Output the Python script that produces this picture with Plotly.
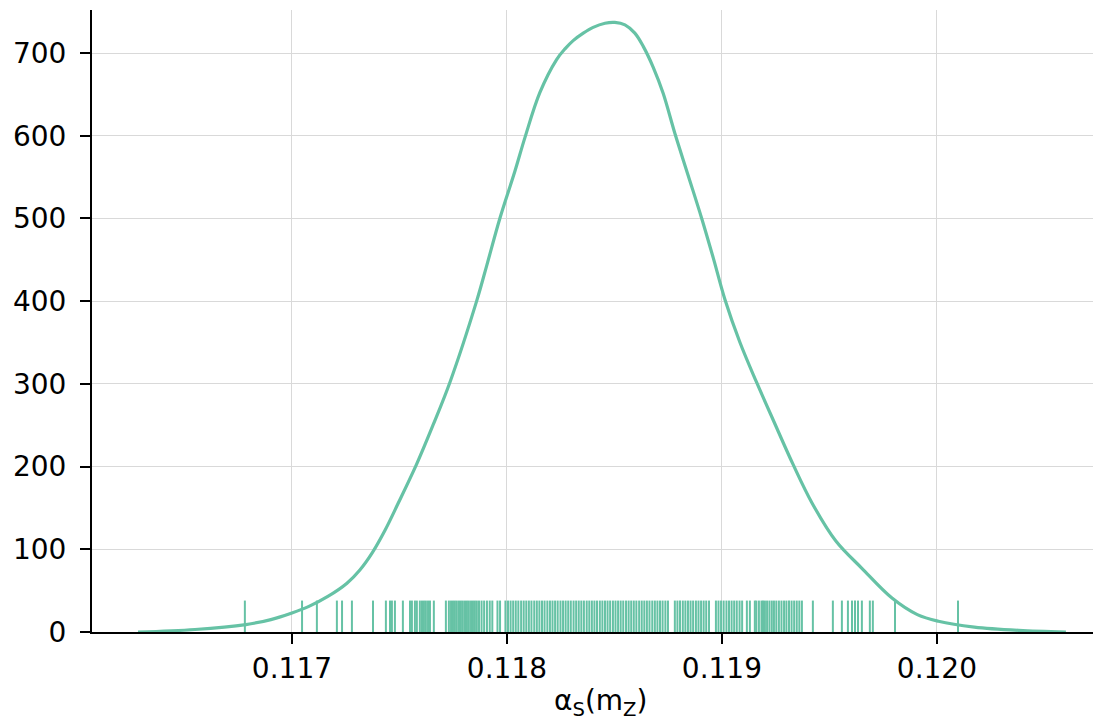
import plotly.graph_objects as go

# KDE curve
kde_x = [0.116284, 0.116549, 0.116786, 0.116902, 0.117000, 0.117079, 0.117167, 0.117256,
         0.117316, 0.117374, 0.117433, 0.117493, 0.117580, 0.117656, 0.117735, 0.117859,
         0.117906, 0.117967, 0.118037, 0.118084, 0.118153, 0.118231, 0.118270, 0.118308,
         0.118355, 0.118401, 0.118456, 0.118502, 0.118549, 0.118595, 0.118634, 0.118680,
         0.118727, 0.118781, 0.118843, 0.118906, 0.118960, 0.119014, 0.119084, 0.119161,
         0.119239, 0.119332, 0.119419, 0.119530, 0.119651, 0.119791, 0.119909, 0.120007,
         0.120174, 0.120381, 0.120600]
kde_y = [0, 3, 9, 15, 23, 31, 43, 59,
         75, 96, 123, 155, 203, 250, 302, 400,
         443, 500, 557, 598, 652, 692, 705, 715,
         724, 731, 736, 737, 734, 724, 708, 683,
         651, 603, 552, 500, 452, 402, 350, 302,
         256, 202, 156, 110, 77, 41, 21, 13,
         6, 2, 0]

# rug sample positions
rug_x = [0.116781, 0.117047, 0.117116, 0.117209, 0.117233, 0.117279, 0.117377, 0.117437,
         0.117456, 0.117465, 0.117479, 0.117516, 0.117549, 0.117558, 0.117572, 0.117581,
         0.117595, 0.117605, 0.117614, 0.117623, 0.117633, 0.117642, 0.117660, 0.117716,
         0.117730, 0.117740, 0.117749, 0.117758, 0.117767, 0.117777, 0.117786, 0.117795,
         0.117805, 0.117814, 0.117823, 0.117833, 0.117842, 0.117851, 0.117860, 0.117870,
         0.117882, 0.117894, 0.117907, 0.117920, 0.117932, 0.117956, 0.117968, 0.117993,
         0.118005, 0.118017, 0.118029, 0.118041, 0.118053, 0.118066, 0.118078, 0.118090,
         0.118102, 0.118114, 0.118127, 0.118139, 0.118151, 0.118163, 0.118175, 0.118188,
         0.118200, 0.118212, 0.118224, 0.118236, 0.118249, 0.118261, 0.118273, 0.118285,
         0.118297, 0.118310, 0.118322, 0.118334, 0.118346, 0.118358, 0.118371, 0.118383,
         0.118395, 0.118407, 0.118419, 0.118432, 0.118444, 0.118456, 0.118468, 0.118480,
         0.118493, 0.118505, 0.118517, 0.118529, 0.118541, 0.118554, 0.118566, 0.118578,
         0.118590, 0.118602, 0.118615, 0.118627, 0.118639, 0.118651, 0.118663, 0.118676,
         0.118688, 0.118700, 0.118712, 0.118724, 0.118737, 0.118749, 0.118781, 0.118793,
         0.118805, 0.118818, 0.118830, 0.118842, 0.118854, 0.118866, 0.118879, 0.118891,
         0.118903, 0.118915, 0.118927, 0.118940, 0.118972, 0.118984, 0.118996, 0.119008,
         0.119021, 0.119033, 0.119045, 0.119057, 0.119069, 0.119082, 0.119094, 0.119116,
         0.119130, 0.119153, 0.119160, 0.119172, 0.119184, 0.119191, 0.119200, 0.119210,
         0.119221, 0.119232, 0.119242, 0.119253, 0.119265, 0.119277, 0.119289, 0.119300,
         0.119312, 0.119324, 0.119336, 0.119348, 0.119360, 0.119372, 0.119423, 0.119516,
         0.119558, 0.119586, 0.119605, 0.119619, 0.119633, 0.119651, 0.119688, 0.119702,
         0.119805, 0.120098]
rug_height = 38

x_ticks = [0.117, 0.118, 0.119, 0.120]
x_tick_labels = ["0.117", "0.118", "0.119", "0.120"]
y_ticks = [0, 100, 200, 300, 400, 500, 600, 700]
x_title = "α<sub>S</sub>(m<sub>Z</sub>)"

color = "#66c2a5"
FONT = "DejaVu Sans"

rx, ry = [], []
for v in rug_x:
    rx += [v, v, None]
    ry += [0, rug_height, None]

fig = go.Figure()
fig.add_trace(go.Scatter(x=rx, y=ry, mode="lines",
                         line=dict(color=color, width=2), hoverinfo="skip"))
fig.add_trace(go.Scatter(x=kde_x, y=kde_y, mode="lines",
                         line=dict(color=color, width=3.2, shape="spline", smoothing=1.0)))

axis_common = dict(showline=True, linecolor="black", linewidth=2,
                   ticks="outside", ticklen=10, tickwidth=2, tickcolor="black",
                   showgrid=True, gridcolor="#d9d9d9", gridwidth=1, zeroline=False,
                   tickfont=dict(family=FONT, size=28, color="black"))

fig.update_layout(
    width=1093, height=721,
    margin=dict(l=92, r=0, t=10, b=89),
    paper_bgcolor="white", plot_bgcolor="white",
    showlegend=False,
    font=dict(family=FONT, color="black"),
    xaxis=dict(range=[0.11607, 0.120726], tickvals=x_ticks, ticktext=x_tick_labels,
               **axis_common),
    yaxis=dict(range=[0, 752], tickvals=y_ticks, ticklabelstandoff=8, **axis_common),
    annotations=[dict(text=x_title, xref="paper", yref="paper", x=0.508, y=-0.114,
                      xanchor="center", yanchor="middle", showarrow=False,
                      font=dict(family=FONT, size=28, color="black"))],
)

fig.write_html("out.html")
